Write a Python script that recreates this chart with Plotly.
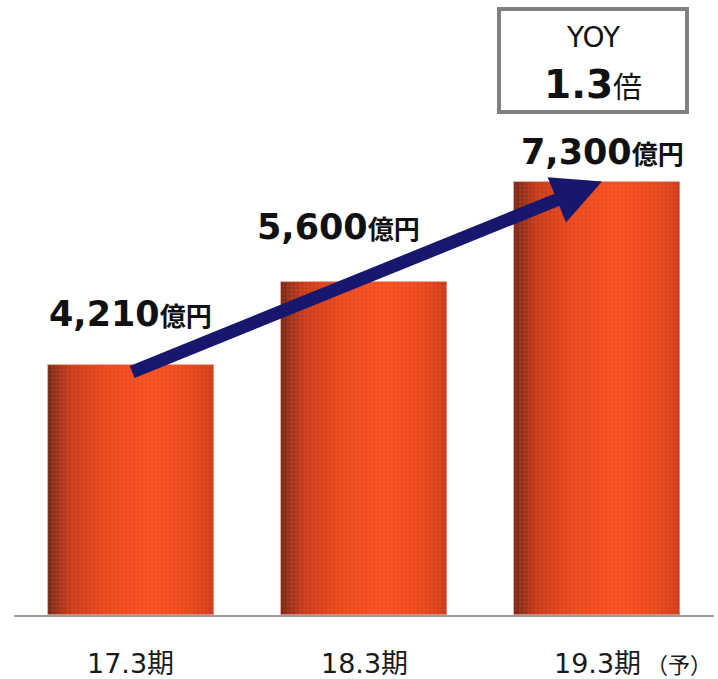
import plotly.graph_objects as go

# ---------------- data ----------------
categories = ["17.3期", "18.3期", "19.3期"]
values = [4210, 5600, 7300]
value_labels = ["4,210", "5,600", "7,300"]
unit_label = "億円"
forecast_suffix = "（予）"
yoy_title = "YOY"
yoy_value = "1.3"
yoy_unit = "倍"

# ---------------- style ----------------
BAR_W = 0.712
N_STRIPS = 36
shade_stops = [
    (0.00, (112, 38, 22)),
    (0.05, (150, 46, 24)),
    (0.14, (200, 58, 26)),
    (0.35, (232, 70, 28)),
    (0.62, (246, 78, 32)),
    (0.84, (234, 70, 28)),
    (0.96, (214, 62, 26)),
    (1.00, (196, 58, 26)),
]


def shade(t):
    for (t0, c0), (t1, c1) in zip(shade_stops[:-1], shade_stops[1:]):
        if t0 <= t <= t1:
            f = (t - t0) / (t1 - t0) if t1 > t0 else 0
            c = [round(a + (b - a) * f) for a, b in zip(c0, c1)]
            return f"rgb({c[0]},{c[1]},{c[2]})"
    c = shade_stops[-1][1]
    return f"rgb({c[0]},{c[1]},{c[2]})"


fig = go.Figure()

# cylinder-like shading built from narrow overlapping strips
step = BAR_W / N_STRIPS
for i in range(N_STRIPS):
    off = -BAR_W / 2 + i * step
    w = min(step * 1.8, BAR_W / 2 - off)
    fig.add_trace(go.Bar(
        x=categories, y=values, width=w, offset=off,
        marker=dict(color=shade((i + 0.5) / N_STRIPS), line=dict(width=0)),
        hoverinfo="skip", showlegend=False,
    ))

# fine texture + soft edge
fig.add_trace(go.Bar(
    x=categories, y=values, width=BAR_W, offset=-BAR_W / 2,
    marker=dict(
        color="rgba(0,0,0,0)",
        line=dict(width=1, color="rgba(236,150,140,0.8)"),
        pattern=dict(shape=".", fgcolor="rgba(255,150,100,0.30)", size=4, solidity=0.45),
    ),
    hoverinfo="skip", showlegend=False,
))

Y_MAX = 10357

annotations = []

# growth arrow
annotations.append(dict(
    x=2.02, y=values[2], xref="x", yref="y",
    ax=0, ay=values[0] * 0.97, axref="x", ayref="y",
    text="", showarrow=True, arrowhead=2, arrowsize=0.75, arrowwidth=13,
    arrowcolor="#17176e",
))

# value labels
label_shifts = [(0, 51), (-26, 55), (5, 30)]
for cat, v, lab, (dx, dy) in zip(categories, values, value_labels, label_shifts):
    annotations.append(dict(
        x=cat, y=v, xref="x", yref="y", xanchor="center", yanchor="middle",
        xshift=dx, yshift=dy, showarrow=False,
        text=f"<b>{lab}</b><b><span style='font-size:26px'>{unit_label}</span></b>",
        font=dict(family="DejaVu Sans, Noto Sans CJK JP", size=35, color="#111111"),
    ))

# category labels
for cat in categories:
    annotations.append(dict(
        x=cat, y=0, xref="x", yref="y", xanchor="center", yanchor="middle",
        yshift=-48, showarrow=False, text=cat,
        font=dict(family="DejaVu Sans, Noto Sans CJK JP", size=27, color="#1a1a1a"),
    ))
annotations.append(dict(
    x=categories[2], y=0, xref="x", yref="y", xanchor="left", yanchor="middle",
    xshift=47, yshift=-48, showarrow=False, text=forecast_suffix,
    font=dict(family="Noto Sans CJK JP", size=22, color="#1a1a1a"),
))

# YOY box text
annotations.append(dict(
    x=categories[2], y=1 - 37 / 615, xref="x", yref="paper", xanchor="center", yanchor="middle",
    xshift=-4, showarrow=False, text=yoy_title,
    font=dict(family="DejaVu Sans", size=28, color="#111111"),
))
annotations.append(dict(
    x=categories[2], y=1 - 84 / 615, xref="x", yref="paper", xanchor="center", yanchor="middle",
    xshift=-4, showarrow=False,
    text=f"<b>{yoy_value}</b><span style='font-size:29px'>{yoy_unit}</span>",
    font=dict(family="DejaVu Sans, Noto Sans CJK JP", size=39, color="#111111"),
))

shapes = [dict(
    type="rect", xref="paper", yref="paper",
    x0=(499 - 14) / 700, x1=(687 - 14) / 700,
    y0=1 - 112 / 615, y1=1 - 9 / 615,
    line=dict(color="#7f7f7f", width=4), fillcolor="white", layer="below",
)]

fig.update_layout(
    width=718, height=679,
    margin=dict(l=14, r=4, t=0, b=64),
    paper_bgcolor="white", plot_bgcolor="white",
    barmode="overlay", bargap=0,
    showlegend=False,
    annotations=annotations,
    shapes=shapes,
    xaxis=dict(
        type="category", range=[-0.5, 2.5], showticklabels=False, ticks="",
        showgrid=False, zeroline=False, showline=True, linecolor="#9a9a9a", linewidth=2,
    ),
    yaxis=dict(range=[0, Y_MAX], visible=False, showgrid=False, zeroline=False),
)

fig.write_html(
    "out.html",
    config={"displayModeBar": False},
    post_script="document.body.style.margin='0';document.body.style.overflow='hidden';",
)
